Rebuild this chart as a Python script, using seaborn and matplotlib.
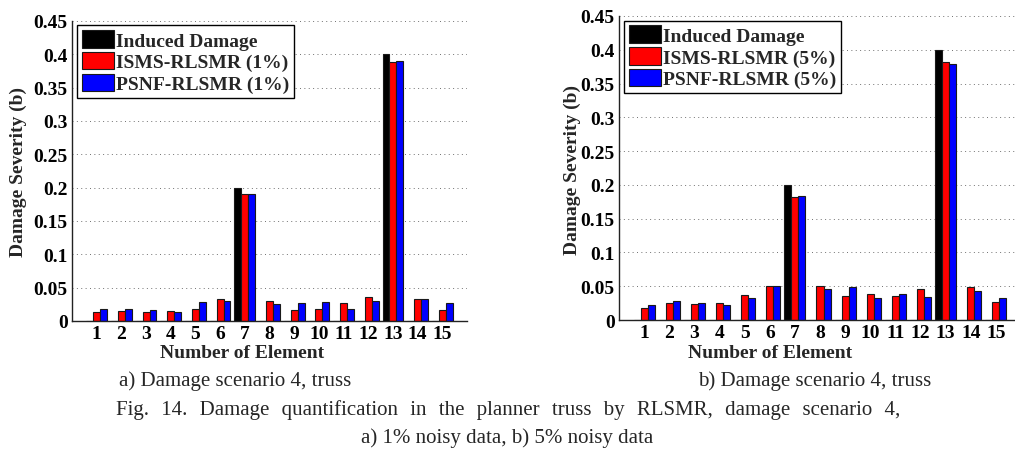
import matplotlib
matplotlib.use("Agg")
import matplotlib.pyplot as plt
import pandas as pd
import seaborn as sns
from matplotlib.ticker import FuncFormatter, MultipleLocator
from matplotlib.font_manager import FontProperties

# ---- data -------------------------------------------------------------
elements = list(range(1, 16))
induced = [0, 0, 0, 0, 0, 0, 0.20, 0, 0, 0, 0, 0, 0.40, 0, 0]

isms_1 = [0.013, 0.0155, 0.013, 0.0155, 0.018, 0.0325, 0.191, 0.030,
          0.016, 0.0175, 0.0265, 0.0355, 0.389, 0.0325, 0.017]
psnf_1 = [0.0185, 0.0185, 0.016, 0.013, 0.029, 0.0305, 0.191, 0.026,
          0.0275, 0.028, 0.0185, 0.0295, 0.390, 0.0325, 0.027]

isms_5 = [0.018, 0.025, 0.023, 0.0255, 0.0375, 0.050, 0.182, 0.050,
          0.036, 0.038, 0.036, 0.0455, 0.382, 0.0485, 0.027]
psnf_5 = [0.022, 0.028, 0.0255, 0.022, 0.0325, 0.050, 0.184, 0.046,
          0.049, 0.032, 0.0385, 0.0335, 0.379, 0.0425, 0.032]

labels_1 = ["Induced Damage", "ISMS-RLSMR (1%)", "PSNF-RLSMR (1%)"]
labels_5 = ["Induced Damage", "ISMS-RLSMR (5%)", "PSNF-RLSMR (5%)"]
colors = ["#000000", "#ff0000", "#0000ff"]

# ---- style ------------------------------------------------------------
sns.set_style("white")
plt.rcParams["font.family"] = ["Liberation Serif", "DejaVu Serif"]
plt.rcParams["font.weight"] = "bold"

fig = plt.figure(figsize=(10.15, 4.56), dpi=100)
W, H = 1015.0, 456.0


def px_axes(x0, x1, ytop, ybot):
    return fig.add_axes([x0 / W, (H - ybot) / H, (x1 - x0) / W, (ybot - ytop) / H])


def fmt(v, _):
    s = f"{v:.2f}".rstrip("0").rstrip(".")
    return s


def draw(ax, ser_a, ser_b, labels):
    df = pd.DataFrame({
        "Element": elements * 3,
        "Severity": induced + ser_a + ser_b,
        "Method": [labels[0]] * 15 + [labels[1]] * 15 + [labels[2]] * 15,
    })
    sns.barplot(data=df, x="Element", y="Severity", hue="Method",
                hue_order=labels, palette=colors, native_scale=True,
                width=0.84, errorbar=None, edgecolor="#1a1a1a",
                linewidth=0.8, ax=ax, saturation=1)
    ax.set_xlim(0, 16)
    ax.set_ylim(0, 0.45)
    ax.set_xticks(elements)
    ax.set_xticklabels([str(e) for e in elements])
    ax.yaxis.set_major_locator(MultipleLocator(0.05))
    ax.yaxis.set_major_formatter(FuncFormatter(fmt))
    ax.set_xlabel("")
    ax.set_ylabel("")
    ax.yaxis.grid(True, linestyle=(0, (1, 3.5)), color="#707070", linewidth=0.7)
    ax.xaxis.grid(False)
    ax.set_axisbelow(True)
    for side in ("top", "right"):
        ax.spines[side].set_visible(False)
    for side in ("left", "bottom"):
        ax.spines[side].set_color("#222222")
        ax.spines[side].set_linewidth(1.0)
    ax.tick_params(axis="both", direction="in", length=3, width=0.8,
                   labelsize=14, pad=3, colors="#000000")
    for t in ax.get_xticklabels() + ax.get_yticklabels():
        t.set_fontweight("bold")
    handles, _ = ax.get_legend_handles_labels()
    leg = ax.legend(handles, labels, loc="upper left",
                    bbox_to_anchor=(0.012, 0.985),
                    prop=FontProperties(family="Liberation Serif",
                                        weight="bold", size=14),
                    frameon=True, fancybox=False, framealpha=1,
                    edgecolor="black", handlelength=1.65, handleheight=1.0,
                    borderpad=0.25, labelspacing=0.12, handletextpad=0.12,
                    borderaxespad=0)
    leg.get_frame().set_linewidth(1.0)
    for p in leg.get_patches():
        p.set_edgecolor("#1a1a1a")


ax1 = px_axes(72, 467, 22, 322)
draw(ax1, isms_1, psnf_1, labels_1)
ax2 = px_axes(619, 1021, 17, 321)
draw(ax2, isms_5, psnf_5, labels_5)

bold = dict(family="Liberation Serif", weight="bold", size=14)
fig.text(18 / W, 1 - 172 / H, "Damage Severity (b)", rotation=90,
         ha="center", va="center", **bold)
fig.text(572 / W, 1 - 170 / H, "Damage Severity (b)", rotation=90,
         ha="center", va="center", **bold)
fig.text(242 / W, 1 - 354 / H, "Number of Element", ha="center",
         va="center", **bold)
fig.text(770 / W, 1 - 354 / H, "Number of Element", ha="center",
         va="center", **bold)

reg = dict(family=["Liberation Serif", "DejaVu Serif"], weight="normal", size=15)
fig.text(235 / W, 1 - 381 / H, "a) Damage scenario 4, truss",
         ha="center", va="center", **reg)
fig.text(815 / W, 1 - 381 / H, "b) Damage scenario 4, truss",
         ha="center", va="center", **reg)

# first caption line is justified: widen the word gaps
caption_1 = ("Fig. 14. Damage quantification in the planner truss by RLSMR, "
             "damage scenario 4,")
fig.text(508 / W, 1 - 410 / H, caption_1.replace(" ", " \u2004"),
         ha="center", va="center", **reg)
fig.text(507 / W, 1 - 438 / H, "a) 1% noisy data, b) 5% noisy data",
         ha="center", va="center", **reg)

fig.savefig("out.png", dpi=100)
